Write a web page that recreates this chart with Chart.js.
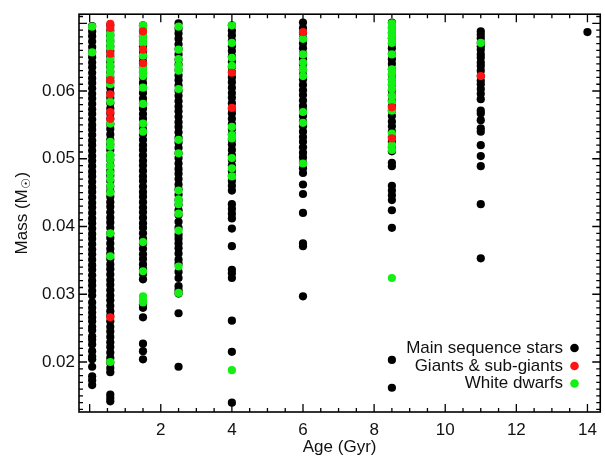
<!DOCTYPE html>
<html>
<head>
<meta charset="utf-8">
<script src="https://cdn.jsdelivr.net/npm/chart.js@4.4.1/dist/chart.umd.min.js"></script>
<style>
  body { margin: 0; background: #fff; }
  #wrap { width: 605px; height: 458px; }
</style>
</head>
<body>
<div id="wrap"><canvas id="chart" width="605" height="458"></canvas></div>
<script>
// age of each column (Gyr)
const ages = [0.07, 0.58, 1.5, 2.5, 4, 6, 8.5, 11, 14];

// masses (Msun) per column, one inner list per age above
const mainSequence = [
  [0.0696, 0.0688, 0.0681, 0.0673, 0.0665, 0.0658, 0.0650, 0.0642, 0.0635, 0.0627, 0.0619, 0.0612, 0.0604, 0.0596,
   0.0589, 0.0581, 0.0573, 0.0566, 0.0558, 0.0550, 0.0543, 0.0535, 0.0527, 0.0520, 0.0512, 0.0504, 0.0497, 0.0489,
   0.0481, 0.0474, 0.0466, 0.0458, 0.0451, 0.0443, 0.0435, 0.0428, 0.0420, 0.0412, 0.0405, 0.0397, 0.0389, 0.0382,
   0.0374, 0.0366, 0.0359, 0.0351, 0.0343, 0.0336, 0.0328, 0.0320, 0.0313, 0.0305, 0.0298, 0.0288, 0.0280, 0.0273,
   0.0266, 0.0260, 0.0252, 0.0247, 0.0238, 0.0233, 0.0226, 0.0216, 0.0208, 0.0204, 0.0193, 0.0179, 0.0173, 0.0166],
  [0.0697, 0.0689, 0.0682, 0.0674, 0.0666, 0.0659, 0.0651, 0.0643, 0.0636, 0.0628, 0.0620, 0.0613, 0.0605, 0.0597,
   0.0590, 0.0582, 0.0574, 0.0567, 0.0559, 0.0551, 0.0544, 0.0536, 0.0528, 0.0521, 0.0513, 0.0505, 0.0498, 0.0490,
   0.0482, 0.0475, 0.0467, 0.0459, 0.0452, 0.0444, 0.0436, 0.0429, 0.0421, 0.0413, 0.0406, 0.0398, 0.0390, 0.0383,
   0.0375, 0.0367, 0.0360, 0.0352, 0.0344, 0.0337, 0.0329, 0.0321, 0.0314, 0.0306, 0.0298, 0.0291, 0.0283, 0.0275,
   0.0268, 0.0260, 0.0252, 0.0245, 0.0237, 0.0229, 0.0222, 0.0214, 0.0206, 0.0199, 0.0191, 0.0185,
   0.0152, 0.0147, 0.0142],
  [0.0697, 0.0689, 0.0681, 0.0674, 0.0666, 0.0658, 0.0651, 0.0643, 0.0635, 0.0628, 0.0620, 0.0612, 0.0605, 0.0597,
   0.0589, 0.0582, 0.0574, 0.0566, 0.0559, 0.0551, 0.0543, 0.0536, 0.0528, 0.0520, 0.0513, 0.0505, 0.0497, 0.0490,
   0.0482, 0.0474, 0.0467, 0.0459, 0.0451, 0.0444, 0.0436, 0.0428, 0.0421, 0.0413, 0.0405, 0.0398, 0.0390, 0.0382,
   0.0375, 0.0367, 0.0359, 0.0352, 0.0344, 0.0337, 0.0330, 0.0322, 0.0285, 0.0280, 0.0266, 0.0227, 0.0216, 0.0204],
  [0.0700, 0.0692, 0.0685, 0.0677, 0.0669, 0.0662, 0.0654, 0.0646, 0.0639, 0.0631, 0.0623, 0.0616, 0.0608, 0.0600,
   0.0593, 0.0585, 0.0577, 0.0570, 0.0562, 0.0554, 0.0547, 0.0539, 0.0531, 0.0524, 0.0516, 0.0508, 0.0501, 0.0493,
   0.0485, 0.0478, 0.0470, 0.0462, 0.0455, 0.0447, 0.0439, 0.0432, 0.0424, 0.0417, 0.0407, 0.0398, 0.0388, 0.0382,
   0.0375, 0.0368, 0.0360, 0.0351, 0.0345, 0.0333, 0.0324, 0.0312, 0.0306, 0.0301, 0.0272, 0.0193],
  [0.0697, 0.0689, 0.0682, 0.0674, 0.0666, 0.0659, 0.0651, 0.0643, 0.0636, 0.0628, 0.0620, 0.0613, 0.0605, 0.0597,
   0.0590, 0.0582, 0.0574, 0.0567, 0.0559, 0.0551, 0.0544, 0.0536, 0.0528, 0.0521, 0.0513, 0.0505, 0.0498, 0.0490,
   0.0482, 0.0475, 0.0467, 0.0460, 0.0453, 0.0433, 0.0426, 0.0419, 0.0412, 0.0397, 0.0371, 0.0336, 0.0331, 0.0324,
   0.0261, 0.0215, 0.0140],
  [0.0701, 0.0693, 0.0686, 0.0678, 0.0670, 0.0663, 0.0655, 0.0647, 0.0640, 0.0632, 0.0624, 0.0617, 0.0609, 0.0601,
   0.0594, 0.0586, 0.0578, 0.0571, 0.0563, 0.0555, 0.0548, 0.0540, 0.0532, 0.0525, 0.0517, 0.0509, 0.0502, 0.0494,
   0.0486, 0.0479, 0.0462, 0.0448, 0.0420, 0.0375, 0.0371, 0.0297],
  [0.0701, 0.0693, 0.0686, 0.0678, 0.0670, 0.0663, 0.0655, 0.0647, 0.0640, 0.0632, 0.0624, 0.0617, 0.0609, 0.0601,
   0.0594, 0.0586, 0.0578, 0.0571, 0.0563, 0.0555, 0.0548, 0.0540, 0.0532, 0.0525, 0.0517, 0.0511, 0.0494, 0.0489,
   0.0460, 0.0453, 0.0446, 0.0439, 0.0424, 0.0398, 0.0203, 0.0162],
  [0.0688, 0.0683, 0.0678, 0.0671, 0.0666, 0.0661, 0.0654, 0.0649, 0.0642, 0.0637, 0.0630, 0.0622, 0.0615, 0.0610,
   0.0603, 0.0596, 0.0588, 0.0571, 0.0567, 0.0557, 0.0545, 0.0540, 0.0520, 0.0504, 0.0489, 0.0433, 0.0353],
  [0.0687]
];

const giants = [
  [],
  [0.0699, 0.0693, 0.0655, 0.0616, 0.0595, 0.0569, 0.0559, 0.0266],
  [0.0688, 0.0661, 0.0641],
  [],
  [0.0627, 0.0575],
  [0.0687],
  [0.0576, 0.0530],
  [0.0622],
  []
];

const whiteDwarfs = [
  [0.0695, 0.0657],
  [0.0685, 0.0678, 0.0671, 0.0664, 0.0647, 0.0638, 0.0630, 0.0622, 0.0610, 0.0584, 0.0552, 0.0525, 0.0518, 0.0506,
   0.0499, 0.0489, 0.0479, 0.0470, 0.0460, 0.0450, 0.0390, 0.0356, 0.0200],
  [0.0697, 0.0692, 0.0682, 0.0676, 0.0670, 0.0652, 0.0634, 0.0628, 0.0622, 0.0605, 0.0581, 0.0552, 0.0540, 0.0377,
   0.0334, 0.0297, 0.0291, 0.0288],
  [0.0695, 0.0661, 0.0647, 0.0637, 0.0630, 0.0603, 0.0528, 0.0508, 0.0453, 0.0440, 0.0433, 0.0419, 0.0394, 0.0341,
   0.0302],
  [0.0697, 0.0671, 0.0649, 0.0637, 0.0547, 0.0535, 0.0530, 0.0501, 0.0486, 0.0474, 0.0188],
  [0.0677, 0.0654, 0.0642, 0.0632, 0.0622, 0.0569, 0.0553, 0.0493],
  [0.0700, 0.0695, 0.0690, 0.0685, 0.0678, 0.0671, 0.0654, 0.0632, 0.0625, 0.0617, 0.0610, 0.0603, 0.0593, 0.0584,
   0.0571, 0.0537, 0.0520, 0.0513, 0.0324],
  [0.0671],
  []
];

const xTicks = [2, 4, 6, 8, 10, 12, 14];
const yTicks = [0.02, 0.03, 0.04, 0.05, 0.06];
const legendLabels = ['Main sequence stars', 'Giants & sub-giants', 'White dwarfs'];
const colors = ['#000000', '#ff1414', '#14f014'];

const FONT = 'Liberation Sans, Arial, Helvetica, sans-serif';

function toPoints(cols) {
  return cols.flatMap((list, i) => list.map(m => ({ x: ages[i], y: m })));
}

// frame with inward ticks on all four sides, legend and y title
const framePlugin = {
  id: 'frame',
  afterDraw(chart) {
    const ctx = chart.ctx;
    const a = chart.chartArea;
    const xs = chart.scales.x, ys = chart.scales.y;
    ctx.save();
    ctx.strokeStyle = '#000';
    ctx.lineWidth = 1.6;
    ctx.strokeRect(a.left, a.top, a.right - a.left, a.bottom - a.top);
    ctx.lineWidth = 1.3;
    ctx.beginPath();
    for (let k = 0; k <= 28; k++) {
      const px = xs.getPixelForValue(k / 2);
      const len = k % 4 === 0 ? 8 : 4;
      ctx.moveTo(px, a.bottom); ctx.lineTo(px, a.bottom - len);
      ctx.moveTo(px, a.top); ctx.lineTo(px, a.top + len);
    }
    for (let k = 13; k <= 71; k++) {
      const py = ys.getPixelForValue(k / 1000);
      const len = k % 10 === 0 ? 8 : 4;
      ctx.moveTo(a.left, py); ctx.lineTo(a.left + len, py);
      ctx.moveTo(a.right, py); ctx.lineTo(a.right - len, py);
    }
    ctx.stroke();

    // legend, text right aligned with marker on the right
    ctx.font = '17px ' + FONT;
    ctx.textAlign = 'right';
    ctx.textBaseline = 'middle';
    const ly = [348, 366, 383.5];
    legendLabels.forEach((t, i) => {
      ctx.fillStyle = '#111';
      ctx.fillText(t, 563, ly[i]);
      ctx.fillStyle = colors[i];
      ctx.beginPath();
      ctx.arc(574.5, ly[i], 4.3, 0, Math.PI * 2);
      ctx.fill();
    });

    // y title with subscript sun symbol
    ctx.translate(22, (a.top + a.bottom) / 2);
    ctx.rotate(-Math.PI / 2);
    ctx.textAlign = 'left';
    ctx.fillStyle = '#111';
    const big = '17px ' + FONT, small = '12px DejaVu Sans, ' + FONT;
    ctx.font = big;
    const w1 = ctx.measureText('Mass (M').width;
    const w3 = ctx.measureText(')').width;
    ctx.font = small;
    const w2 = ctx.measureText('\u2609').width + 1;
    let x0 = -(w1 + w2 + w3) / 2;
    ctx.font = big;
    ctx.fillText('Mass (M', x0, 0);
    ctx.font = small;
    ctx.fillText('\u2609', x0 + w1 + 0.5, 5);
    ctx.font = big;
    ctx.fillText(')', x0 + w1 + w2, 0);
    ctx.restore();
  }
};

const dotStyle = { pointRadius: 4.1, pointHoverRadius: 4.1, pointBorderWidth: 0, showLine: false };

new Chart(document.getElementById('chart'), {
  type: 'scatter',
  data: {
    datasets: [
      { label: legendLabels[0], data: toPoints(mainSequence), backgroundColor: colors[0], order: 3, ...dotStyle },
      { label: legendLabels[2], data: toPoints(whiteDwarfs), backgroundColor: colors[2], order: 2, ...dotStyle },
      { label: legendLabels[1], data: toPoints(giants), backgroundColor: colors[1], order: 1, ...dotStyle }
    ]
  },
  plugins: [framePlugin],
  options: {
    responsive: false,
    animation: false,
    events: [],
    layout: { padding: { top: 9, right: 3, left: 0, bottom: 0 } },
    plugins: { legend: { display: false }, tooltip: { enabled: false } },
    scales: {
      x: {
        type: 'linear',
        min: -0.3,
        max: 14.36,
        afterBuildTicks: s => { s.ticks = xTicks.map(v => ({ value: v })); },
        afterFit: s => { s.height = 46; },
        grid: { display: false, drawTicks: false },
        border: { display: false },
        ticks: { color: '#111', font: { family: FONT, size: 17 }, padding: 8, maxRotation: 0 },
        title: { display: true, text: 'Age (Gyr)', color: '#111', font: { family: FONT, size: 17 }, padding: 0 }
      },
      y: {
        type: 'linear',
        min: 0.01262,
        max: 0.07134,
        afterBuildTicks: s => { s.ticks = yTicks.map(v => ({ value: v })); },
        afterFit: s => { s.width = 79; },
        grid: { display: false, drawTicks: false },
        border: { display: false },
        ticks: { color: '#111', font: { family: FONT, size: 17 }, padding: 4, callback: v => v.toFixed(2) }
      }
    }
  }
});
</script>
</body>
</html>
